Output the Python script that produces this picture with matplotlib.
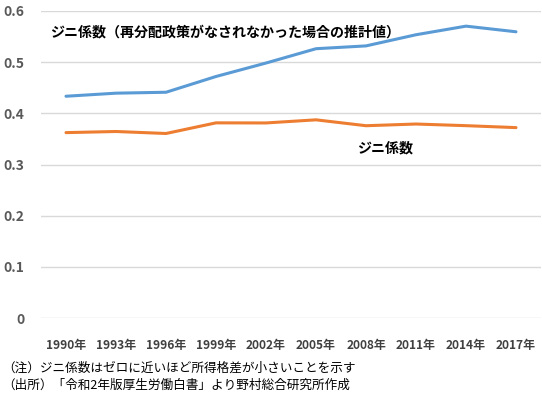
import matplotlib
matplotlib.use("Agg")
import matplotlib.pyplot as plt

plt.rcParams['font.family'] = ['Noto Sans CJK JP', 'DejaVu Sans']

years = ["1990年", "1993年", "1996年", "1999年", "2002年", "2005年", "2008年", "2011年", "2014年", "2017年"]
gini_before = [0.4334, 0.4394, 0.4412, 0.4720, 0.4983, 0.5263, 0.5318, 0.5536, 0.5704, 0.5594]
gini_after = [0.3623, 0.3645, 0.3606, 0.3814, 0.3812, 0.3873, 0.3758, 0.3791, 0.3759, 0.3721]
yticks = [0, 0.1, 0.2, 0.3, 0.4, 0.5, 0.6]
ytick_labels = ["0", "0.1", "0.2", "0.3", "0.4", "0.5", "0.6"]

fig = plt.figure(figsize=(5.42, 3.99), dpi=100)
ax = fig.add_axes([41/542, 1 - 318/399, 500/542, 307/399])

x = list(range(len(years)))
ax.plot(x, gini_before, color='#5b9bd5', lw=2.2, solid_capstyle='round', zorder=3)
ax.plot(x, gini_after, color='#ed7d31', lw=2.2, solid_capstyle='round', zorder=3)

ax.set_xlim(-0.5, 9.5)
ax.set_ylim(0, 0.6)
ax.set_yticks(yticks)
ax.set_yticklabels(ytick_labels, fontsize=10, color='#595959', fontweight='bold')
ax.set_xticks(x)
ax.set_xticklabels(years, fontsize=8.6, color='#404040', fontweight='bold')
ax.tick_params(axis='both', length=0)
ax.tick_params(axis='y', pad=12)
ax.tick_params(axis='x', pad=15)
ax.grid(axis='y', color='#d9d9d9', lw=1)
ax.set_axisbelow(True)
for s in ax.spines.values():
    s.set_visible(False)

ax.text(-0.32, 0.558, "ジニ係数（再分配政策がなされなかった場合の推計値）", fontsize=10.1,
        fontweight='bold', color='#000000', va='center', ha='left')
ax.text(5.83, 0.332, "ジニ係数", fontsize=10.1, fontweight='bold', color='#000000', va='center', ha='left')

fig.text(2/542, 1 - 368/399, "（注）ジニ係数はゼロに近いほど所得格差が小さいことを示す", fontsize=9.1, va='center', ha='left')
fig.text(2/542, 1 - 385.5/399, "（出所）「令和2年版厚生労働白書」より野村総合研究所作成", fontsize=9.1, va='center', ha='left')

fig.savefig("out.png", dpi=100)
